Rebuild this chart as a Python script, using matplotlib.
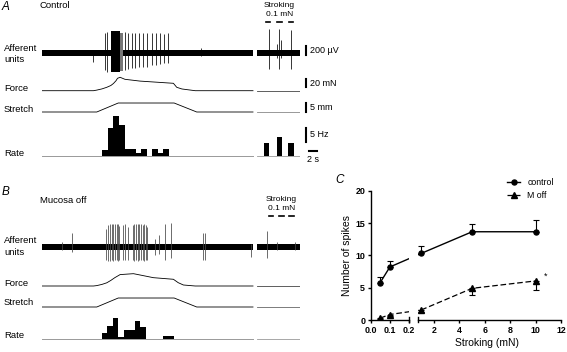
import numpy as np
import matplotlib
matplotlib.use('Agg')
import matplotlib.pyplot as plt
from matplotlib.transforms import blended_transform_factory

plt.rcParams['font.family'] = ['Liberation Sans', 'DejaVu Sans']

# ---------------- data ----------------
# time base of the recordings (s)
main_end = 57.0                      # end of the stretch recording
stroke_span = (58.1, 69.7)           # separate stroking recording

# afferent spikes, panel A (control): time (s), upward and downward size (uV)
a_spike_t = [13.9, 17.0, 17.6, 22.4, 23.3, 24.2, 25.1, 26.3, 27.4, 28.3, 29.6, 30.7, 31.9, 33.0, 34.1, 42.9]
a_spike_up = [40, 450, 473, 473, 450, 450, 437, 437, 437, 437, 450, 450, 450, 420, 450, 118]
a_spike_dn = [200, 377, 415, 377, 362, 340, 340, 304, 304, 304, 266, 266, 244, 215, 215, 60]
a_burst = (18.6, 21.1, 490, 430)     # dense discharge: start, end, up, down
a_fringe = (21.1, 22.0, 440, 400)
a_stroke_t = [61.2, 63.5, 64.1, 64.5, 67.2]
a_stroke_up = [530, 200, 530, 290, 500]
a_stroke_dn = [350, 100, 360, 120, 350]

# afferent spikes, panel B (mucosa off)
b_spike_t = [5.3, 8.2, 17.3, 17.9, 18.4, 18.8, 19.3, 19.7, 20.2, 20.6, 20.9, 22.0, 22.4, 23.3,
             24.5, 24.9, 25.4, 25.9, 26.3, 26.8, 27.2, 27.6, 28.1, 28.5, 30.5, 31.7, 33.2,
             34.9, 43.6, 44.1, 56.5]
b_spike_up = [120, 310, 393, 490, 500, 500, 510, 500, 510, 500, 470, 490, 510, 440,
              480, 510, 500, 510, 500, 510, 480, 500, 490, 440, 170, 266, 510,
              540, 318, 318, 60]
b_spike_dn = [60, 100, 290, 310, 310, 290, 300, 290, 290, 300, 290, 290, 290, 290,
              290, 300, 290, 300, 290, 290, 290, 300, 290, 280, 178, 150, 290,
              252, 290, 290, 215]
b_stroke_t = [60.7, 63.4, 68.4]
b_stroke_up = [355, 120, 110]
b_stroke_dn = [245, 60, 60]

# force (mN)
a_force_t = [0, 13.9, 14.8, 16.2, 17.5, 18.6, 19.3, 20.0, 20.4, 21.1, 22.4, 26.5, 35.5, 36.4, 37.8, 41.4, main_end]
a_force_v = [0, 0, 1.5, 4.5, 8.5, 13, 18, 25, 31, 33.5, 28.5, 24, 18.5, 8.5, 4.3, 0, 0]
b_force_t = [0, 13.9, 14.8, 16.2, 17.5, 18.6, 19.7, 21.1, 24.7, 26.5, 30.1, 35.5, 36.8, 38.2, 41.4, main_end]
b_force_v = [0, 0, 1.0, 4.0, 8.0, 14, 21, 28.5, 30.8, 27.5, 20.8, 16.8, 8.3, 2.5, 0, 0]

# stretch (mm)
stretch_t = [0, 14.8, 20.6, 35.7, 41.8, main_end]
stretch_v = [0, 0, 5, 5, 0, 0]

# firing rate histograms (Hz), 1.5 s bins
bin_w = 1.5
a_rate_start = 16.3
a_rate = [2.1, 10, 14.3, 11.1, 2.5, 2.5, 1.1, 2.5, 0, 2.5, 1.1, 2.5]
b_rate_start = 16.1
b_rate = [2.0, 4.8, 7.6, 0.8, 3.2, 3.2, 6.4, 4.4, 0, 0, 0, 1.2, 1.2]
a_stroke_rate_t = [60.7, 64.2, 67.3]
a_stroke_rate = [4.6, 6.8, 4.6]
a_stroke_marks = [61.1, 64.2, 67.2]
b_stroke_marks = [61.8, 64.7, 67.4]

# panel C
stroking = [0.05, 0.1, 1, 5, 10]
ctrl_mean = [5.8, 8.2, 10.3, 13.65, 13.65]
ctrl_sem = [0.9, 1.0, 1.2, 1.25, 1.8]
moff_mean = [0.3, 0.85, 1.55, 4.9, 6.05]
moff_sem = [0.2, 0.2, 0.3, 1.05, 1.45]
c_xticks1 = [0, 0.1, 0.2]
c_xticks2 = [2, 4, 6, 8, 10, 12]
c_yticks = [0, 5, 10, 15, 20]

# ---------------- figure ----------------
W, H = 567, 352
fig = plt.figure(figsize=(W / 100, H / 100), dpi=100)
FS = 6.8


def fy(py):
    return 1 - py / H


def ftext(x, y, s, **kw):
    kw.setdefault('fontsize', FS)
    kw.setdefault('va', 'center')
    fig.text(x / W, fy(y), s, **kw)


def trace_axes(top, bottom, baseline, per_px):
    ax = fig.add_axes([42 / W, 1 - bottom / H, 258 / W, (bottom - top) / H])
    ax.set_xlim(0, 69.7)
    ax.set_ylim((baseline - bottom) * per_px, (baseline - top) * per_px)
    ax.axis('off')
    return ax


def afferent(ax, band, band2, t, up, dn, st, sup, sdn, color):
    ax.fill_between([0, main_end], -band, band, color='k', lw=0)
    ax.fill_between(stroke_span, -band2, band2, color='k', lw=0)
    ax.vlines(t, -np.array(dn), up, color=color, lw=0.55)
    ax.vlines(st, -np.array(sdn), sup, color=color, lw=0.55)


def flat(ax, color='k'):
    ax.plot(stroke_span, [0, 0], color=color, lw=0.6)


def stroke_marks(ax, marks, y_mark, y_txt1, y_txt2):
    tr = blended_transform_factory(ax.transData, fig.transFigure)
    for m in marks:
        ax.plot([m - 0.6, m + 0.6], [fy(y_mark)] * 2, color='k', lw=1.2,
                transform=tr, clip_on=False)
    mid = np.mean(marks)
    ax.text(mid, fy(y_txt1), 'Stroking', transform=tr, ha='center', va='center', fontsize=6)
    ax.text(mid, fy(y_txt2), '0.1 mN', transform=tr, ha='center', va='center', fontsize=6)


# ----- panel A -----
ax = trace_axes(25, 81, 53, 22.2)
afferent(ax, 60, 75, a_spike_t, a_spike_up, a_spike_dn, a_stroke_t, a_stroke_up, a_stroke_dn, 'k')
ax.fill_between(a_burst[:2], -a_burst[3], a_burst[2], color='k', lw=0)
ax.fill_between(a_fringe[:2], -a_fringe[3], a_fringe[2], color='#777777', lw=0)
ax.plot([71.4, 71.4], [-45, 155], color='k', lw=1.5, clip_on=False)
ax.text(72.5, 55, '200 \u00b5V', fontsize=6.5, va='center')
stroke_marks(ax, a_stroke_marks, 22, 5.5, 15)

ax = trace_axes(68, 95, 90.7, 2.5)
ax.plot(a_force_t, a_force_v, color='k', lw=0.6)
flat(ax, '#444444')
ax.plot([71.4, 71.4], [9, 29], color='k', lw=1.5, clip_on=False)
ax.text(72.5, 19, '20 mN', fontsize=6.5, va='center')

ax = trace_axes(98, 116, 112, 0.556)
ax.plot(stretch_t, stretch_v, color='k', lw=0.6)
flat(ax, '#888888')
ax.plot([71.4, 71.4], [0, 5], color='k', lw=1.5, clip_on=False)
ax.text(72.5, 2.5, '5 mm', fontsize=6.5, va='center')

ax = trace_axes(110, 162, 156, 0.357)
ax.bar(a_rate_start + bin_w * np.arange(len(a_rate)), a_rate, width=bin_w, align='edge',
       color='k', lw=0)
ax.bar(a_stroke_rate_t, a_stroke_rate, width=bin_w, color='k', lw=0)
ax.plot([0, main_end], [0, 0], color='#999999', lw=0.7)
flat(ax, '#999999')
ax.plot([71.4, 71.4], [5, 10], color='k', lw=1.5, clip_on=False)
ax.text(72.5, 7.5, '5 Hz', fontsize=6.5, va='center')
ax.plot([72.2, 74.2], [1.8, 1.8], color='k', lw=1.5, clip_on=False)
ax.text(73.2, -1.2, '2 s', fontsize=6.5, va='center', ha='center')

ftext(2, 7, 'A', fontsize=8.5, style='italic')
ftext(39.5, 6, 'Control')
ftext(4, 54, 'Afferent\nunits', linespacing=1.35)
ftext(4, 88.3, 'Force')
ftext(4, 110, 'Stretch')
ftext(4, 153.3, 'Rate')

# ----- panel B -----
ax = trace_axes(219, 275, 247, 22.2)
afferent(ax, 65, 65, b_spike_t, b_spike_up, b_spike_dn, b_stroke_t, b_stroke_up, b_stroke_dn, '#444444')
stroke_marks(ax, b_stroke_marks, 216, 199.3, 208.5)

ax = trace_axes(262, 290, 286, 2.5)
ax.plot(b_force_t, b_force_v, color='k', lw=0.6)
flat(ax, '#444444')

ax = trace_axes(292, 311, 307, 0.556)
ax.plot(stretch_t, stretch_v, color='k', lw=0.6)
flat(ax, '#666666')

ax = trace_axes(310, 343, 339, 0.357)
ax.bar(b_rate_start + bin_w * np.arange(len(b_rate)), b_rate, width=bin_w, align='edge',
       color='k', lw=0)
ax.plot([0, main_end], [0, 0], color='#999999', lw=0.7)
flat(ax, '#999999')

ftext(2, 192, 'B', fontsize=8.5, style='italic')
ftext(40, 200.7, 'Mucosa off')
ftext(4, 246.5, 'Afferent\nunits', linespacing=1.35)
ftext(4, 283.3, 'Force')
ftext(4, 302.7, 'Stretch')
ftext(4, 335, 'Rate')

# ----- panel C: broken x axis -----
XP = np.array([0, 0.2, 0.75, 12.0])
FP = np.array([0, 38.3, 47.3, 191.3])


def _pw(v, xs, ys):
    v = np.asarray(v, float)
    out = np.interp(v, xs, ys)
    lo = ys[0] + (v - xs[0]) * (ys[1] - ys[0]) / (xs[1] - xs[0])
    hi = ys[-1] + (v - xs[-1]) * (ys[-1] - ys[-2]) / (xs[-1] - xs[-2])
    return np.where(v < xs[0], lo, np.where(v > xs[-1], hi, out))


def fwd(v):
    return _pw(v, XP, FP)


def inv(v):
    return _pw(v, FP, XP)


c_top, c_bot = 190.7, 320.0
ax1 = fig.add_axes([370.7 / W, 1 - c_bot / H, 38.3 / W, (c_bot - c_top) / H])
ax2 = fig.add_axes([418.0 / W, 1 - c_bot / H, 143.3 / W, (c_bot - c_top) / H])
handles = []
for a in (ax1, ax2):
    a.set_xscale('function', functions=(fwd, inv))
    a.set_ylim(0, 20)
    a.spines[['top', 'right']].set_visible(False)
    a.spines[['left', 'bottom']].set_linewidth(1.0)
    a.tick_params(length=2.5, width=1.0, labelsize=6.4, pad=1.5)
    a.xaxis.set_minor_locator(matplotlib.ticker.NullLocator())
    lc, = a.plot(stroking, ctrl_mean, '-o', color='k', lw=1.0, ms=3.6)
    lm, = a.plot(stroking, moff_mean, '--^', color='k', lw=0.9, ms=4.0, dashes=(4.5, 2.2))
    a.errorbar(stroking, ctrl_mean, yerr=[np.zeros(5), ctrl_sem], fmt='none',
               ecolor='k', elinewidth=0.8, capsize=2.2, capthick=0.8)
    a.errorbar(stroking, moff_mean, yerr=[moff_sem, np.zeros(5)], fmt='none',
               ecolor='k', elinewidth=0.8, capsize=2.2, capthick=0.8)
    handles = [lc, lm]

ax1.set_xlim(0, 0.2)
ax1.set_xticks(c_xticks1)
ax1.set_xticklabels(['0.0', '0.1', '0.2'], fontweight='bold')
ax1.set_yticks(c_yticks)
ax1.set_yticklabels([str(v) for v in c_yticks], fontweight='bold')
ax1.plot([0.2, 0.2], [-0.3, 0.5], color='k', lw=1.0, clip_on=False)

ax2.set_xlim(0.75, 12)
ax2.set_xticks(c_xticks2)
ax2.set_xticklabels([str(v) for v in c_xticks2], fontweight='bold')
ax2.spines['left'].set_visible(False)
ax2.tick_params(axis='y', left=False, labelleft=False)
ax2.plot([0.75, 0.75], [-0.3, 0.5], color='k', lw=1.0, clip_on=False)
ax2.text(10.8, 6.7, '*', fontsize=6.5, ha='center', va='center')

ax2.legend(handles, ['control', 'M off'], loc='upper left',
           bbox_to_anchor=(507 / W, fy(178)), bbox_transform=fig.transFigure,
           frameon=False, fontsize=6.3, handlelength=1.5, handletextpad=0.8,
           labelspacing=0.5, borderpad=0, borderaxespad=0)

ftext(340, 180, 'C', fontsize=8.5, style='italic', ha='center')
ftext(347, 256, 'Number of spikes', fontsize=7.5, rotation=90, ha='center')
ftext(487, 343, 'Stroking (mN)', fontsize=7.5, ha='center')

fig.savefig('out.png', dpi=100)
